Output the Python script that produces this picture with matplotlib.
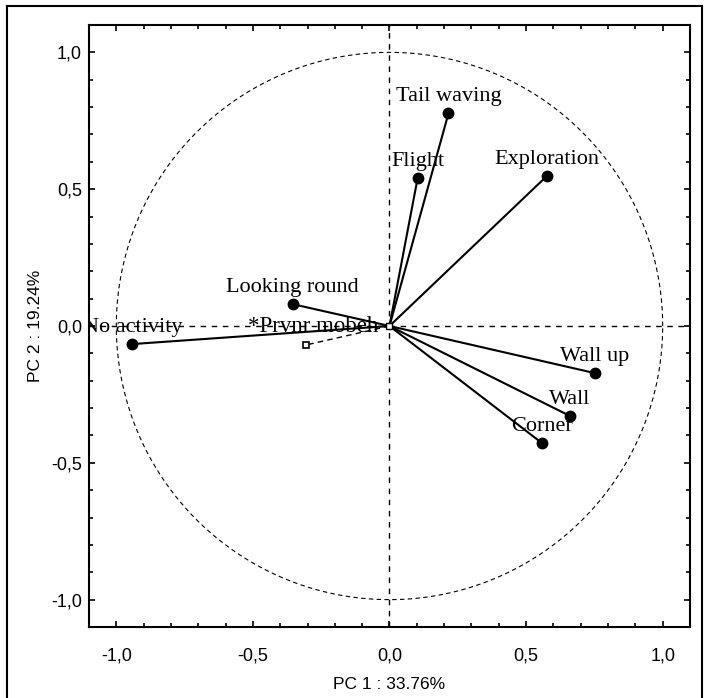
import numpy as np
import matplotlib.pyplot as plt
from matplotlib.ticker import MultipleLocator, FuncFormatter
from matplotlib.lines import Line2D
from matplotlib.transforms import offset_copy

# Active variables: loadings on PC1 / PC2
variables = ["Tail waving", "Flight", "Exploration", "Looking round",
             "No activity", "Wall up", "Wall", "Corner"]
pc1 = [0.216, 0.103, 0.575, -0.355, -0.941, 0.751, 0.659, 0.557]
pc2 = [0.777, 0.540, 0.547, 0.080, -0.066, -0.172, -0.328, -0.427]

# Supplementary variable
supp_names = ["*Prvnr mobeh"]
supp_pc1 = [-0.304]
supp_pc2 = [-0.069]

fig = plt.figure(figsize=(7.09, 6.98), dpi=100)
ax = fig.add_axes([0.1255, 0.1017, 0.8477, 0.8625])

# unit circle
t = np.linspace(0, 2 * np.pi, 400)
ax.plot(np.cos(t), np.sin(t), color="black", lw=0.8, ls=(0, (4, 3)))

ax.axhline(0, color="black", lw=1.0, ls=(0, (4, 4)))
ax.axvline(0, color="black", lw=1.0, ls=(0, (4, 4)))

serif = "Liberation Serif"
above = offset_copy(ax.transData, fig=fig, x=0, y=5, units="points")
for name, x, y in zip(variables, pc1, pc2):
    ax.plot([0, x], [0, y], color="black", lw=1.5)
    ax.plot(x, y, "o", color="black", ms=7.5)
    ax.text(x, y, name, transform=above, ha="center", va="bottom",
            fontsize=16, family=serif, clip_on=True)

supp_tr = offset_copy(ax.transData, fig=fig, x=5, y=6, units="points")
for name, x, y in zip(supp_names, supp_pc1, supp_pc2):
    ax.plot([0, x], [0, y], color="black", lw=1.0, ls=(0, (4, 3)))
    ax.plot(x, y, "s", mfc="white", mec="black", ms=5, mew=1.2)
    ax.text(x, y, name, transform=supp_tr, ha="center", va="bottom",
            fontsize=16.5, family=serif)

ax.plot(0, 0, "s", mfc="white", mec="black", ms=4, mew=1.0)

ax.set_xlim(-1.1, 1.1)
ax.set_ylim(-1.1, 1.1)

comma = FuncFormatter(lambda v, p: f"{v:.1f}".replace(".", ","))
for axis in (ax.xaxis, ax.yaxis):
    axis.set_major_locator(MultipleLocator(0.5))
    axis.set_minor_locator(MultipleLocator(0.1))
    axis.set_major_formatter(comma)
ax.tick_params(which="both", direction="in", top=True, right=True,
               width=1.2, labelsize=13)
ax.tick_params(which="major", length=4)
ax.tick_params(axis="x", which="major", pad=15)
ax.tick_params(axis="y", which="major", pad=5)
ax.tick_params(which="minor", length=3)
for sp in ax.spines.values():
    sp.set_linewidth(1.5)
for lab in ax.get_xticklabels() + ax.get_yticklabels():
    lab.set_family("Liberation Sans")

ax.set_xlabel("PC 1 : 33.76%", family="Liberation Sans", fontsize=12.5, labelpad=9)
ax.set_ylabel("PC 2 : 19.24%", family="Liberation Sans", fontsize=12.5, labelpad=6)

# outer frame
kw = dict(color="black", lw=1.5, transform=fig.transFigure)
fig.add_artist(Line2D([0.0099, 0.0099], [0.0, 0.9914], **kw))
fig.add_artist(Line2D([0.0099, 0.9901], [0.9914, 0.9914], **kw))
fig.add_artist(Line2D([0.9901, 0.9901], [0.0, 0.9914], **kw))

fig.savefig("out.png", dpi=100)
